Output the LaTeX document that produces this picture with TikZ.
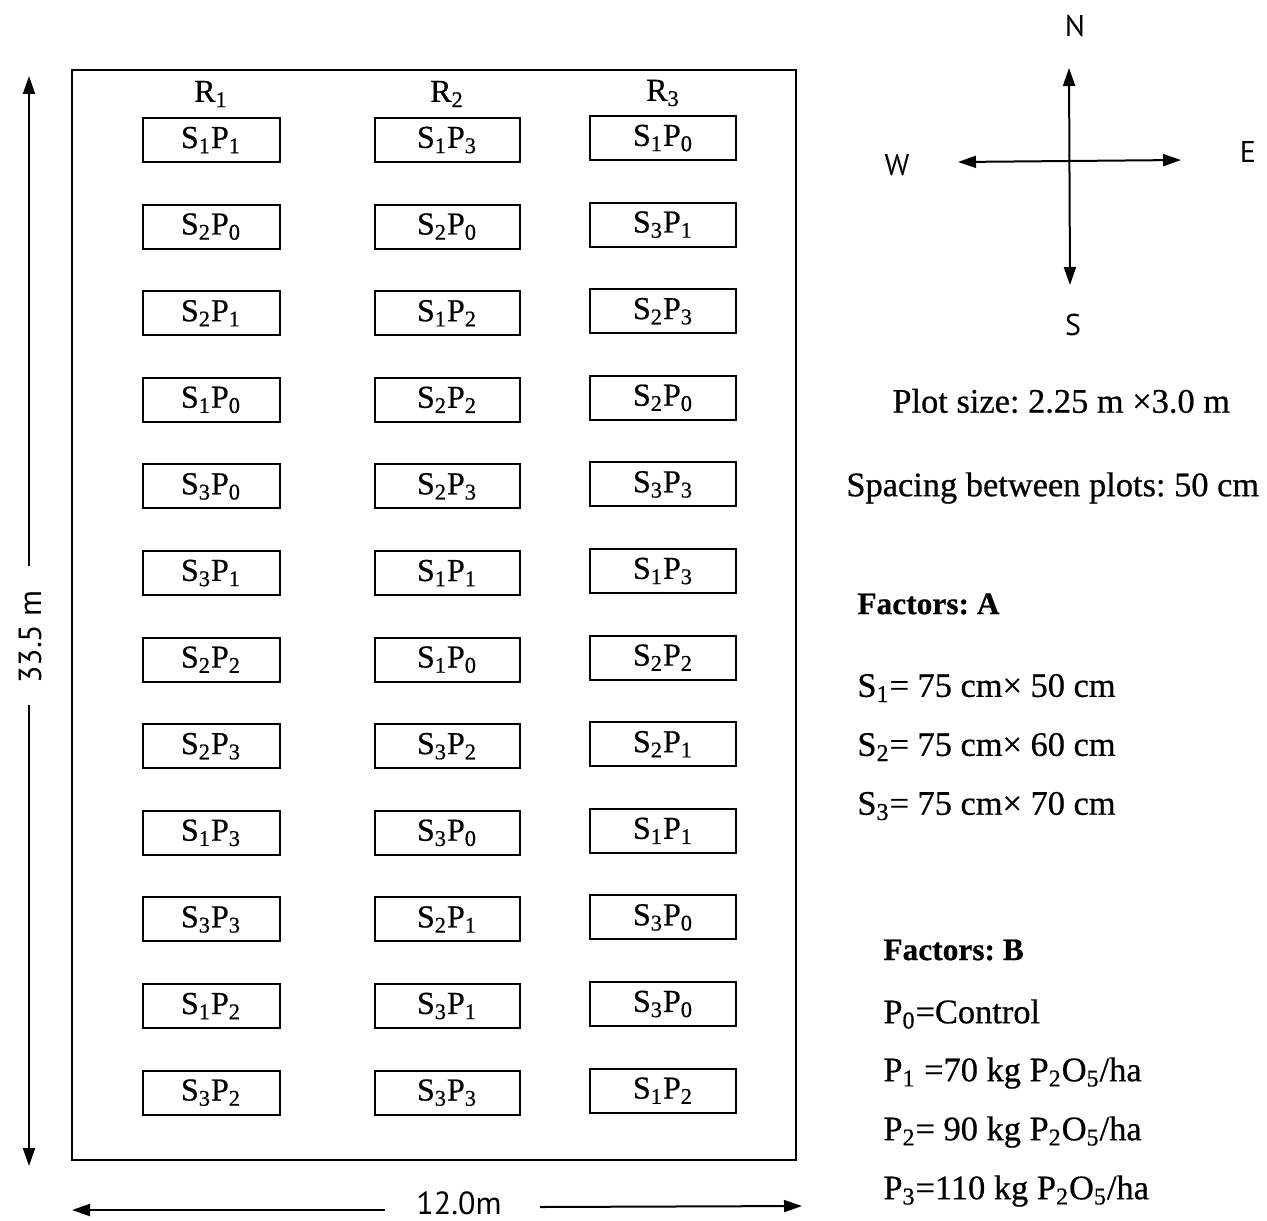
\documentclass[tikz,border=0pt]{standalone}
\usepackage{fontspec}
\setmainfont[FakeBold=0.6]{Liberation Serif}
\newfontfamily\gfont{PT Sans}
\usetikzlibrary{arrows.meta}
\frenchspacing
\newcommand\plt[2]{S\textsubscript{#1}P\textsubscript{#2}}
\begin{document}
\begin{tikzpicture}[x=0.5pt,y=-0.5pt,
  plotbox/.style={draw,line width=1pt,minimum height=22pt,inner sep=0pt,font=\fontsize{16}{18}\selectfont},
  rlab/.style={font=\fontsize{16}{18}\selectfont},
  info/.style={anchor=west,inner sep=0pt,font=\fontsize{17.2}{19}\selectfont},
  bhead/.style={anchor=west,inner sep=0pt,font=\bfseries\fontsize{15.7}{18}\selectfont},
  dir/.style={font=\gfont\fontsize{15}{17}\selectfont},
  dimlab/.style={inner sep=0pt,font=\gfont\fontsize{16}{18}\selectfont},
  arr/.style={line width=1pt,-{Triangle[length=9pt,width=6pt]}},
  darr/.style={line width=1pt,{Triangle[length=9pt,width=6pt]}-{Triangle[length=9pt,width=6pt]}}]
\useasboundingbox (0,0) rectangle (1267,1220);
\fill[white] (0,0) rectangle (1267,1220);
% field
\draw[line width=1pt] (72,70) rectangle (796,1160);
\node[rlab] (r1) at (211,94) {R\textsubscript{1}};
\node[rlab] (r2) at (447,94) {R\textsubscript{2}};
\node[rlab] (r3) at (663,93) {R\textsubscript{3}};
\foreach \a/\b [count=\i] in {1/1,2/0,2/1,1/0,3/0,3/1,2/2,2/3,1/3,3/3,1/2,3/2}
  \node[plotbox,minimum width=68.5pt] (a\i) at (211,{140+86.6*(\i-1)}) {\plt{\a}{\b}};
\foreach \a/\b [count=\i] in {1/3,2/0,1/2,2/2,2/3,1/1,1/0,3/2,3/0,2/1,3/1,3/3}
  \node[plotbox,minimum width=72.5pt] (b\i) at (447,{140+86.6*(\i-1)}) {\plt{\a}{\b}};
\foreach \a/\b [count=\i] in {1/0,3/1,2/3,2/0,3/3,1/3,2/2,2/1,1/1,3/0,3/0,1/2}
  \node[plotbox,minimum width=73pt] (c\i) at (663,{138+86.6*(\i-1)}) {\plt{\a}{\b}};
% dimension 33.5 m
\node[dimlab,rotate=90] (len) at (30,637) {33.5 m};
\coordinate (lt) at (29,76);
\coordinate (lb) at (29,1166);
\draw[arr] (29,566) -- (lt);
\draw[arr] (29,705) -- (lb);
% dimension 12.0m
\node[dimlab] (wid) at (459,1203) {12.0m};
\coordinate (wl) at (72,1210);
\coordinate (wr) at (802,1206);
\draw[arr] (385,1210) -- (wl);
\draw[arr] (540,1207) -- (wr);
% compass
\coordinate (cN) at (1069,68);
\coordinate (cS) at (1070,285);
\coordinate (cW) at (958,162);
\coordinate (cE) at (1181,160);
\draw[darr] (cS) -- (cN);
\draw[darr] (cW) -- (cE);
\node[dir] (nN) at (1075,26) {N};
\node[dir] (nS) at (1073,325) {S};
\node[dir] (nW) at (897,165) {W};
\node[dir] (nE) at (1248,152) {E};
% info
\node[info] (ps) at (892,401) {Plot size: 2.25 m ×3.0 m};
\node[info] (sp) at (846,488) {Spacing between plots: 50 cm};
\node[bhead] (fa) at (857,604) {Factors: A};
\node[info] (s1) at (857,688) {S\textsubscript{1}= 75 cm× 50 cm};
\node[info] (s2) at (857,747) {S\textsubscript{2}= 75 cm× 60 cm};
\node[info] (s3) at (857,806) {S\textsubscript{3}= 75 cm× 70 cm};
\node[bhead] (fb) at (883,950) {Factors: B};
\node[info] (p0) at (883,1014) {P\textsubscript{0}=Control};
\node[info] (p1) at (883,1073) {P\textsubscript{1} =70 kg P\textsubscript{2}O\textsubscript{5}/ha};
\node[info] (p2) at (883,1132) {P\textsubscript{2}= 90 kg P\textsubscript{2}O\textsubscript{5}/ha};
\node[info] (p3) at (883,1191) {P\textsubscript{3}=110 kg P\textsubscript{2}O\textsubscript{5}/ha};
\end{tikzpicture}
\end{document}
